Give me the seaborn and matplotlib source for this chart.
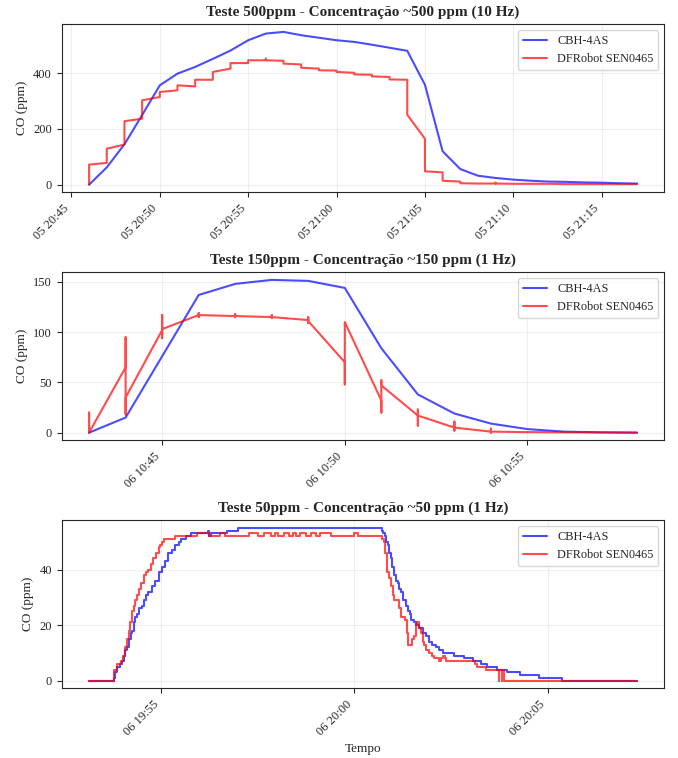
import pandas as pd
import matplotlib
matplotlib.use("Agg")
import matplotlib.pyplot as plt
import matplotlib.dates as mdates
from matplotlib.ticker import MultipleLocator
import seaborn as sns

# ---- Teste 500ppm (10 Hz), dia 05 ----
cbh_500_time = ["20:46", "20:47", "20:48", "20:49", "20:50", "20:51", "20:52", "20:53",
                "20:54", "20:55", "20:56", "20:57", "20:58", "20:59", "21:00", "21:01",
                "21:02", "21:03", "21:04", "21:05", "21:06", "21:07", "21:08", "21:09",
                "21:10", "21:11", "21:12", "21:13", "21:14", "21:15", "21:16", "21:17"]
cbh_500_ppm = [0, 62, 145, 250, 357, 399, 423, 452, 482, 519, 543, 549, 537, 528, 519, 513,
               503, 492, 481, 359, 120, 56, 32, 24, 18, 14, 11, 10, 8, 7, 5, 4]

# timestamps truncated to the minute -> several readings share one time
dfr_500_time = ["20:46", "20:46", "20:47", "20:47", "20:48", "20:48", "20:49", "20:49",
                "20:50", "20:50", "20:51", "20:51", "20:52", "20:52", "20:53", "20:53",
                "20:54", "20:54", "20:55", "20:55", "20:56", "20:56", "20:56", "20:57",
                "20:57", "20:58", "20:58", "20:59", "20:59", "21:00", "21:00", "21:01",
                "21:01", "21:02", "21:02", "21:03", "21:03", "21:04", "21:04", "21:05",
                "21:05", "21:06", "21:06", "21:07", "21:07", "21:08", "21:09", "21:09",
                "21:09", "21:10", "21:11", "21:12", "21:13", "21:14", "21:15", "21:16",
                "21:17"]
dfr_500_ppm = [0, 72, 78, 129, 144, 228, 237, 303,
               315, 333, 339, 357, 353, 377, 377, 405,
               417, 437, 437, 447, 447, 453, 447, 445,
               435, 432, 420, 417, 411, 410, 405, 402,
               396, 395, 389, 387, 378, 377, 251, 165,
               48, 44, 14, 11, 5, 4, 4, 7,
               4, 3, 3, 3, 2, 2, 2, 2,
               2]

# ---- Teste 150ppm (1 Hz), dia 06 ----
cbh_150_time = ["10:43", "10:44", "10:45", "10:46", "10:47", "10:48", "10:49", "10:50",
                "10:51", "10:52", "10:53", "10:54", "10:55", "10:56", "10:57", "10:58"]
cbh_150_ppm = [0, 15, 76, 137, 148, 152, 151, 144, 84, 38, 19, 9, 3.5, 1, 0.3, 0]

dfr_150_time = ["10:43", "10:43", "10:43",
                "10:44", "10:44", "10:44", "10:44",
                "10:45", "10:45", "10:45", "10:45",
                "10:46", "10:46", "10:46", "10:46",
                "10:47", "10:47", "10:47", "10:47",
                "10:48", "10:48", "10:48", "10:48",
                "10:49", "10:49", "10:49", "10:49",
                "10:50", "10:50", "10:50",
                "10:51", "10:51", "10:51", "10:51",
                "10:52", "10:52", "10:52", "10:52",
                "10:53", "10:53", "10:53", "10:53",
                "10:54", "10:54", "10:54", "10:54",
                "10:55", "10:56", "10:57", "10:58"]
dfr_150_ppm = [0, 20, 0,
               65, 95, 18, 35,
               102, 117, 94, 103,
               117, 119, 115, 117,
               116, 118, 115, 116,
               115, 117, 114, 115,
               112, 115, 109, 111,
               70, 48, 110,
               32, 20, 52, 47,
               17, 23, 7, 17,
               5, 11, 2, 5,
               1, 4, 0, 1,
               0.5, 0.3, 0.2, 0]

# ---- Teste 50ppm (1 Hz), dia 06, segundos desde 19:53:00 ----
cbh_50_sec = [8, 44, 46, 49, 52, 56, 59, 62, 64, 67, 70, 73, 75, 78, 80, 82, 85, 90, 93, 96,
              100, 105, 111, 116, 121, 126, 131, 136, 142, 147, 151, 158, 167, 192, 194, 197,
              222, 239, 463, 465, 467, 469, 472, 474, 477, 479, 482, 485, 488, 490, 493, 495,
              500, 503, 506, 508, 512, 515, 520, 526, 531, 536, 541, 546, 551, 557, 575, 590,
              605, 616, 626, 642, 657, 677, 707, 742, 859]
cbh_50_ppm = [0, 0, 1, 3, 5, 6, 7, 9, 11, 12, 15, 17, 18, 21, 23, 24, 26, 27, 29, 31,
              32, 34, 36, 39, 41, 43, 46, 47, 49, 50, 51, 52, 53, 54, 52, 53,
              54, 55, 54, 53, 52, 50, 49, 46, 44, 41, 38, 36, 35, 33, 32, 29,
              27, 25, 24, 22, 21, 20, 19, 17, 16, 14, 13, 12, 11, 10, 9, 8,
              7, 6, 5, 4, 3, 2, 1, 0, 0]

dfr_50_sec = [8, 46, 51, 57, 61, 64, 67, 70, 72, 75, 78, 80, 82, 85, 88, 93, 97, 100, 104,
              108, 112, 116, 118, 121, 124, 142, 175, 194, 211, 219, 256, 271, 280, 291, 296,
              302, 311, 318, 324, 330, 336, 345, 352, 360, 367, 384, 420, 426, 463, 466, 468,
              470, 471, 474, 477, 480, 482, 490, 493, 499, 502, 503, 510, 513, 516, 518, 520,
              523, 526, 528, 532, 536, 540, 544, 551, 555, 557, 560, 562, 607, 611, 624, 644,
              644.4, 649, 649.4, 652, 859]
dfr_50_ppm = [0, 4, 6, 7, 9, 12, 15, 18, 21, 25, 27, 29, 31, 33, 35, 38, 39, 40, 42,
              44, 46, 48, 49, 50, 51, 52, 53, 52, 53, 52, 53, 52, 53, 52, 53,
              52, 53, 52, 53, 52, 53, 52, 53, 52, 53, 52, 53, 52, 51, 50, 46,
              42, 39, 37, 34, 31, 29, 26, 23, 22, 17, 13, 15, 16, 20, 21, 19,
              17, 14, 13, 11, 10, 9, 8, 7, 8, 9, 8, 7, 6, 5, 4, 0,
              4, 0, 4, 0, 0]

titles = ["Teste 500ppm - Concentração ~500 ppm (10 Hz)",
          "Teste 150ppm - Concentração ~150 ppm (1 Hz)",
          "Teste 50ppm - Concentração ~50 ppm (1 Hz)"]
y_steps = [200, 50, 20]


def to_times(day, hhmm):
    return pd.to_datetime([f"2025-06-{day} {t}" for t in hhmm])


def from_seconds(start, secs):
    return pd.Timestamp(start) + pd.to_timedelta(secs, unit="s")


sns.set_style("ticks")
plt.rcParams["font.family"] = ["Liberation Serif", "DejaVu Serif"]

panels = [
    (to_times("05", cbh_500_time), cbh_500_ppm, to_times("05", dfr_500_time), dfr_500_ppm, None),
    (to_times("06", cbh_150_time), cbh_150_ppm, to_times("06", dfr_150_time), dfr_150_ppm, None),
    (from_seconds("2025-06-06 19:53:00", cbh_50_sec), cbh_50_ppm,
     from_seconds("2025-06-06 19:53:00", dfr_50_sec), dfr_50_ppm, "steps-post"),
]

fig, axes = plt.subplots(3, 1, figsize=(6.78, 7.58), dpi=100)
fig.subplots_adjust(left=0.091, right=0.980, top=0.968, bottom=0.092, hspace=0.476)

for ax, (tb, vb, tr, vr, ds), title, step in zip(axes, panels, titles, y_steps):
    extra = {"drawstyle": ds} if ds else {}
    sns.lineplot(x=tb, y=vb, ax=ax, color="blue", alpha=0.7, linewidth=1.5,
                 estimator=None, sort=False, label="CBH-4AS", **extra)
    sns.lineplot(x=tr, y=vr, ax=ax, color="red", alpha=0.7, linewidth=1.5,
                 estimator=None, sort=False, label="DFRobot SEN0465", **extra)
    ax.set_title(title, fontsize=11, fontweight="bold")
    ax.set_ylabel("CO (ppm)", fontsize=9.5)
    ax.set_xlabel("")
    ax.grid(True, alpha=0.3)
    ax.legend(loc="upper right", fontsize=8.8)
    ax.yaxis.set_major_locator(MultipleLocator(step))
    ax.xaxis.set_major_locator(mdates.MinuteLocator(byminute=range(0, 60, 5)))
    ax.xaxis.set_major_formatter(mdates.DateFormatter("%d %H:%M"))
    ax.tick_params(labelsize=9)
    for lbl in ax.get_xticklabels():
        lbl.set_rotation(45)
        lbl.set_ha("right")

axes[-1].set_xlabel("Tempo", fontsize=9.5)

plt.savefig("out.png", dpi=100)
plt.close()
